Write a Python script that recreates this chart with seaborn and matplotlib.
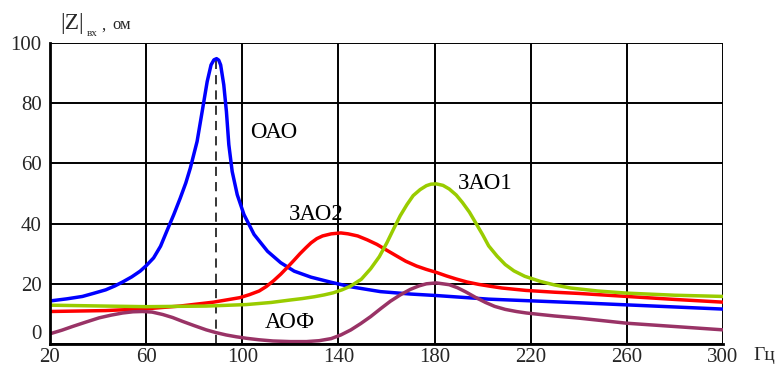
import matplotlib
matplotlib.use("Agg")
import matplotlib.pyplot as plt
import pandas as pd
import seaborn as sns

# curves (frequency in Hz, |Z| in Ohm)
oao_f = [20, 27, 33.5, 38, 43.2, 47, 50.2, 54, 57.5, 60, 63.1, 66, 68.6, 71.5, 74.2, 76.5,
         78.4, 81.2, 83.3, 85.4, 87, 88.2, 89.3, 90.2, 91, 92.3, 93.4, 94.4, 95.8, 97.9,
         100.7, 104.9, 110.5, 116, 121.6, 128.6, 137, 145.2, 157.5, 170, 180.7, 202.5,
         218.2, 240, 260, 280, 300]
oao_z = [14.3, 15.0, 15.8, 16.8, 18.0, 19.3, 20.6, 22.3, 24.2, 26, 28.6, 32.5, 37.5, 43, 48.5,
         53.5, 58.5, 67.3, 77.2, 87.2, 92.7, 94.4, 94.8, 94.3, 92.7, 86.1, 77.2, 66.2,
         57.3, 49.6, 43, 36.4, 30.8, 27, 24.2, 22.2, 20.5, 19, 17.4, 16.6, 16.1, 14.9,
         14.4, 13.7, 13, 12.3, 11.6]

zao2_f = [20, 43, 60, 74, 88, 99, 103, 107, 110, 113, 116, 118.8, 121.5, 124, 126.5, 128.6,
          131, 133.4, 137, 141, 144, 148, 152, 156, 160, 164.3, 168, 172.5, 176.5, 180.7,
          185, 189, 193.5, 198.4, 203, 208, 218, 230, 240, 260, 280, 300]
zao2_z = [10.8, 11.1, 11.7, 12.6, 13.9, 15.4, 16.4, 17.6, 19.1, 21, 23.2, 25.5, 27.8, 30,
          32, 33.6, 35, 35.9, 36.6, 36.9, 36.6, 35.9, 34.6, 33.1, 31.2, 29.2, 27.5, 25.9,
          24.8, 23.8, 22.6, 21.6, 20.6, 19.8, 19.2, 18.6, 17.8, 17.2, 16.8, 15.8, 14.8, 13.9]

zao1_f = [20, 43, 60, 85, 101.7, 112, 119.8, 125, 130, 134, 137.8, 141.5, 145, 149.5, 153.4,
          157, 160.2, 163, 165.7, 168.5, 171.1, 174, 176.6, 178.5, 180.7, 183.5, 186.1, 189,
          191.6, 194.5, 197, 200, 202.5, 206, 209.4, 213, 217.5, 224, 230, 236.6, 248, 260,
          280, 300]
zao1_z = [12.9, 12.6, 12.4, 12.6, 13.1, 13.8, 14.6, 15.1, 15.7, 16.3, 17, 18, 19.2, 21.5,
          25, 29, 33.7, 38.3, 42.6, 46.3, 49.3, 51.3, 52.6, 53.1, 53.2, 52.7, 51.5, 49.5,
          47, 43.8, 40.4, 36.3, 32.6, 29.2, 26.4, 24.3, 22.5, 20.8, 19.6, 18.6, 17.6, 16.9,
          16.2, 15.8]

aof_f = [20, 25, 29.3, 35, 40.5, 45.5, 50.2, 54.5, 58.5, 62.5, 66.9, 71, 75.2, 80, 85,
         89, 93.3, 97.5, 101.7, 107, 112.8, 120, 126.7, 132, 137, 141, 145.2, 149.3, 153.4,
         157.5, 161.6, 165.7, 169.8, 173.5, 176.6, 180.7, 186.1, 189.5, 193, 197, 201.2,
         205, 209.4, 214, 218.2, 224, 230, 240, 260, 280, 300]
aof_z = [3.4, 4.6, 5.8, 7.3, 8.7, 9.6, 10.3, 10.7, 10.8, 10.6, 9.8, 8.8, 7.5, 6.1, 4.7,
         3.8, 3.0, 2.4, 1.9, 1.4, 1.0, 0.8, 0.8, 1.1, 1.8, 3.0, 4.7, 6.8, 9.1,
         11.7, 14.2, 16.3, 18.1, 19.3, 20, 20.3, 19.7, 18.7, 17.3, 15.5, 13.8,
         12.5, 11.5, 10.8, 10.3, 9.8, 9.3, 8.6, 6.9, 5.8, 4.7]

names = ["ОАО", "ЗАО2", "ЗАО1", "АОФ"]
colors = {"ОАО": "#0000ff", "ЗАО2": "#ff0000", "ЗАО1": "#99cc00", "АОФ": "#993366"}

# resonance marker of the ОАО curve
peak_f = 88.9
peak_z = 94.8

x_ticks = [20, 60, 100, 140, 180, 220, 260, 300]
y_ticks = [0, 20, 40, 60, 80, 100]

frames = []
for name, f, z in zip(names, [oao_f, zao2_f, zao1_f, aof_f],
                      [oao_z, zao2_z, zao1_z, aof_z]):
    frames.append(pd.DataFrame({"f": f, "z": z, "curve": name}))
df = pd.concat(frames, ignore_index=True)

sns.set_style("white")
plt.rcParams["font.family"] = ["Liberation Serif", "DejaVu Serif"]

fig = plt.figure(figsize=(7.79, 3.67), dpi=100)
ax = fig.add_axes([50 / 779, 23 / 367, 673 / 779, 301 / 367])

ax.grid(True, color="black", linewidth=1.4)
ax.set_axisbelow(True)

sns.lineplot(data=df, x="f", y="z", hue="curve", palette=colors,
             estimator=None, linewidth=2.5, legend=False, ax=ax,
             solid_joinstyle="round", solid_capstyle="butt")

ax.plot([peak_f, peak_f], [0, peak_z], color="black", linestyle=(0, (6, 4)),
        linewidth=1.1, zorder=1)

ax.set_xlim(20, 300)
ax.set_ylim(0, 100)
ax.set_xticks(x_ticks)
ax.set_yticks(y_ticks)
ax.set_xlabel("")
ax.set_ylabel("")
ax.tick_params(length=0, labelsize=15)
ax.tick_params(axis="x", pad=3)
ax.tick_params(axis="y", pad=6)
ax.get_yticklabels()[0].set_va("bottom")

for side in ["top", "right"]:
    ax.spines[side].set_visible(False)
for side in ["left", "bottom"]:
    ax.spines[side].set_linewidth(2)
    ax.spines[side].set_color("black")

label_font = {"fontsize": 16.5, "color": "black", "va": "center"}
ax.text(103.2, 70.1, "ОАО", **label_font)
ax.text(119.4, 42.9, "ЗАО2", **label_font)
ax.text(189.7, 53.2, "ЗАО1", **label_font)
ax.text(109.4, 7.0, "АОФ", **label_font)

fig.text(60 / 779, 1 - 24 / 367, "|Z|", fontsize=17, va="center")
fig.text(87 / 779, 1 - 33 / 367, "вх", fontsize=8, va="center")
fig.text(101 / 779, 1 - 26 / 367, ",", fontsize=12, va="center")
fig.text(112 / 779, 1 - 25 / 367, "ом", fontsize=12, va="center")
fig.text(753 / 779, 1 - 355 / 367, "Гц", fontsize=14, va="center")

fig.savefig("out.png", dpi=100)
